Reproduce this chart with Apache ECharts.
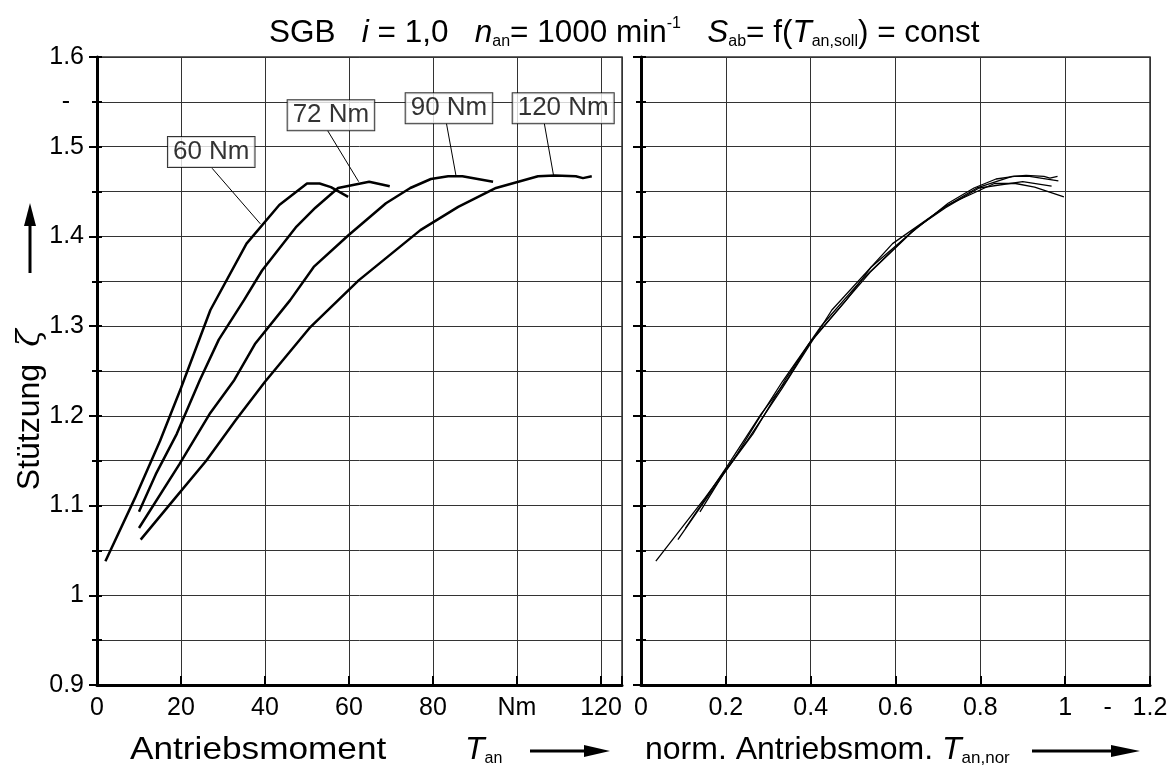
<!DOCTYPE html>
<html>
<head>
<meta charset="utf-8">
<script src="https://cdn.jsdelivr.net/npm/echarts@6/dist/echarts.min.js"></script>
<style>
  html, body { margin: 0; padding: 0; background: #fff; }
  #chart { width: 1172px; height: 771px; }
</style>
</head>
<body>
<div id="chart"></div>
<script>
// Stützung über Antriebsmoment (links) und normiertem Antriebsmoment (rechts)
var t60 = [[2, 1.038], [9, 1.108], [15, 1.172], [20, 1.231], [27, 1.318], [35.6, 1.392], [43.4, 1.435], [50, 1.459], [53, 1.459], [55.7, 1.455], [59.8, 1.444]];
var t72 = [[10, 1.093], [14, 1.135], [19, 1.18], [24.5, 1.24], [29, 1.285], [35, 1.329], [39.3, 1.362], [47.5, 1.411], [52, 1.432], [57.4, 1.454], [64.8, 1.461], [69.7, 1.456]];
var t90 = [[10, 1.075], [19.6, 1.146], [26.8, 1.202], [32.7, 1.24], [37.6, 1.28], [46, 1.329], [51.6, 1.366], [59.8, 1.401], [68.8, 1.437], [74.6, 1.454], [79.5, 1.464], [83.6, 1.467], [87, 1.467], [94.3, 1.461]];
var t120 = [[10.4, 1.062], [18, 1.105], [26, 1.15], [33, 1.195], [40, 1.238], [50.8, 1.299], [62.3, 1.351], [77, 1.407], [86, 1.433], [95, 1.454], [105, 1.467], [109, 1.468], [114, 1.467], [115.7, 1.465], [117.8, 1.467]];

// normiert
var n60 = [[0.035, 1.038], [0.15, 1.108], [0.25, 1.172], [0.333, 1.231], [0.45, 1.318], [0.593, 1.392], [0.723, 1.435], [0.833, 1.459], [0.883, 1.459], [0.928, 1.455], [0.997, 1.444]];
var n72 = [[0.139, 1.093], [0.194, 1.135], [0.264, 1.18], [0.34, 1.24], [0.4, 1.283], [0.48, 1.327], [0.54, 1.36], [0.65, 1.41], [0.718, 1.432], [0.797, 1.454], [0.9, 1.461], [0.968, 1.456]];
var n90 = [[0.105, 1.075], [0.206, 1.146], [0.283, 1.202], [0.344, 1.24], [0.396, 1.28], [0.484, 1.329], [0.543, 1.366], [0.629, 1.401], [0.724, 1.437], [0.785, 1.454], [0.837, 1.464], [0.88, 1.467], [0.916, 1.467], [0.984, 1.462]];
var n120 = [[0.087, 1.062], [0.15, 1.105], [0.217, 1.15], [0.275, 1.195], [0.333, 1.238], [0.423, 1.299], [0.519, 1.351], [0.642, 1.407], [0.717, 1.433], [0.792, 1.454], [0.875, 1.467], [0.908, 1.468], [0.95, 1.467], [0.964, 1.465], [0.982, 1.467]];

// Beschriftungskästen: [x, y, Text] und Hinweislinien
var boxes = [[27.2, 1.494, '60 Nm'], [55.7, 1.535, '72 Nm'], [83.8, 1.543, '90 Nm'], [111, 1.543, '120 Nm']];
var leaders = [
  [[27.4, 1.476], [38.9, 1.414]],
  [[54.9, 1.518], [62.3, 1.461]],
  [[83.2, 1.526], [85.5, 1.467]],
  [[106.5, 1.526], [108.7, 1.468]]
];

var FONT = 'Liberation Sans, Arial, sans-serif';
var myChart = echarts.init(document.getElementById('chart'));

function curve(data, g, w) {
  return {
    type: 'line',
    data: data,
    xAxisIndex: g,
    yAxisIndex: g === 0 ? 0 : 2,
    symbol: 'none',
    lineStyle: { color: '#000', width: w },
    z: 5
  };
}

var yMain = function (g, showLabel) {
  return {
    type: 'value', gridIndex: g, min: 0.9, max: 1.6, interval: 0.1, position: 'left',
    axisLine: { show: true, lineStyle: { color: '#000', width: 3 } },
    axisTick: { show: true, length: 8, lineStyle: { color: '#000', width: 2 } },
    minorTick: { show: true, splitNumber: 2, length: 5, lineStyle: { color: '#000', width: 2 } },
    splitLine: { show: true, lineStyle: { color: '#333', width: 1 } },
    minorSplitLine: { show: true, lineStyle: { color: '#333', width: 1 } },
    axisLabel: { show: showLabel, color: '#000', fontSize: 25, fontFamily: FONT, margin: 13 }
  };
};
var yInner = function (g, withDash) {
  return {
    type: 'value', gridIndex: g, min: 0.9, max: 1.6, interval: 0.05, position: 'left',
    axisLine: { show: false },
    axisTick: { show: true, inside: true, length: 5, lineStyle: { color: '#000', width: 2 } },
    splitLine: { show: false },
    axisLabel: {
      show: withDash, color: '#000', fontSize: 25, fontFamily: FONT, margin: 27,
      formatter: function (v) { return Math.abs(v - 1.55) < 1e-6 ? '-' : ''; }
    }
  };
};

var txt = function (size, extra) {
  var s = { fontSize: size, fontFamily: FONT, fill: '#000', color: '#000', fontWeight: 'normal' };
  for (var k in extra) s[k] = extra[k];
  return s;
};

var option = {
  animation: false,
  backgroundColor: '#fff',
  title: {
    left: 264, top: 11,
    text: '{n|SGB   }{it|i}{n| = 1,0   }{it|n}{sub|an}{n|= 1000 min}{sup|-1}{n|   }{it|S}{sub|ab}{n|= f(}{it|T}{sub|an,soll}{n|) = const}',
    textStyle: {
      fontWeight: 'normal',
      rich: {
        n: txt(31.5, { lineHeight: 34 }),
        it: txt(31.5, { fontStyle: 'italic', lineHeight: 34 }),
        sub: txt(16, { verticalAlign: 'bottom', lineHeight: 14 }),
        sup: txt(16, { verticalAlign: 'top', lineHeight: 14 })
      }
    }
  },
  grid: [
    { left: 97, right: 550, top: 57, bottom: 86, show: true, borderColor: '#333', borderWidth: 1.5 },
    { left: 641, right: 22, top: 57, bottom: 86, show: true, borderColor: '#333', borderWidth: 1.5 }
  ],
  xAxis: [
    {
      type: 'value', gridIndex: 0, min: 0, max: 125, interval: 20,
      axisLine: { show: true, onZero: false, lineStyle: { color: '#000', width: 3 } },
      axisTick: { show: true, inside: true, length: 9, lineStyle: { color: '#000', width: 2 } },
      splitLine: { show: true, lineStyle: { color: '#333', width: 1 } },
      axisLabel: {
        color: '#000', fontSize: 25, fontFamily: FONT, margin: 11,
        formatter: function (v) { return v === 100 ? 'Nm' : (v % 20 === 0 ? String(v) : ''); }
      }
    },
    {
      type: 'value', gridIndex: 1, min: 0, max: 1.2, interval: 0.2,
      axisLine: { show: true, onZero: false, lineStyle: { color: '#000', width: 3 } },
      axisTick: { show: true, inside: true, length: 9, lineStyle: { color: '#000', width: 2 } },
      splitLine: { show: true, lineStyle: { color: '#333', width: 1 } },
      axisLabel: { color: '#000', fontSize: 25, fontFamily: FONT, margin: 11, showMaxLabel: true }
    },
    {
      type: 'value', gridIndex: 1, min: 0, max: 1.2, interval: 0.1, position: 'bottom',
      axisLine: { show: false }, axisTick: { show: false }, splitLine: { show: false },
      axisLabel: {
        color: '#000', fontSize: 25, fontFamily: FONT, margin: 11,
        formatter: function (v) { return Math.abs(v - 1.1) < 1e-6 ? '-' : ''; }
      }
    }
  ],
  yAxis: [
    yMain(0, true),
    yInner(0, true),
    yMain(1, false),
    yInner(1, false)
  ],
  graphic: [
    // y-Achsentitel
    {
      type: 'text', x: 30, y: 427, rotation: Math.PI / 2,
      style: { text: 'Stützung', align: 'center', verticalAlign: 'middle', fontSize: 32, fontFamily: FONT, fill: '#000' }
    },
    {
      type: 'text', x: 31, y: 338, rotation: Math.PI / 2,
      style: { text: 'ζ', align: 'center', verticalAlign: 'middle', fontSize: 32, fontFamily: 'DejaVu Serif, serif', fontStyle: 'italic', fill: '#000' }
    },
    { type: 'line', shape: { x1: 30, y1: 273, x2: 30, y2: 224 }, style: { stroke: '#000', lineWidth: 3 } },
    { type: 'polygon', shape: { points: [[24, 226], [36, 226], [30, 203]] }, style: { fill: '#000' } },
    // x-Achsentitel links
    {
      type: 'text', x: 130, y: 750, scaleX: 1.1,
      style: { text: 'Antriebsmoment', verticalAlign: 'middle', fontSize: 32, fontFamily: FONT, fill: '#000' }
    },
    {
      type: 'text', x: 465, y: 750,
      style: {
        text: '{t|T}{s|an}', verticalAlign: 'middle',
        rich: {
          t: txt(32, { fontStyle: 'italic', lineHeight: 34 }),
          s: txt(16, { verticalAlign: 'bottom', lineHeight: 14 })
        }
      }
    },
    { type: 'line', shape: { x1: 530, y1: 751, x2: 588, y2: 751 }, style: { stroke: '#000', lineWidth: 3 } },
    { type: 'polygon', shape: { points: [[584, 745], [584, 757], [610, 751]] }, style: { fill: '#000' } },
    // x-Achsentitel rechts
    {
      type: 'text', x: 645, y: 750,
      style: { text: 'norm. Antriebsmom.', verticalAlign: 'middle', fontSize: 32, fontFamily: FONT, fill: '#000' }
    },
    {
      type: 'text', x: 942, y: 750,
      style: {
        text: '{t|T}{s|an,nor}', verticalAlign: 'middle',
        rich: {
          t: txt(32, { fontStyle: 'italic', lineHeight: 34 }),
          s: txt(17, { verticalAlign: 'bottom', lineHeight: 14 })
        }
      }
    },
    { type: 'line', shape: { x1: 1032, y1: 751, x2: 1115, y2: 751 }, style: { stroke: '#000', lineWidth: 3 } },
    { type: 'polygon', shape: { points: [[1111, 745], [1111, 757], [1140, 751]] }, style: { fill: '#000' } }
  ],
  series: [
    curve(t60, 0, 2.5),
    curve(t72, 0, 2.5),
    curve(t90, 0, 2.5),
    curve(t120, 0, 2.5),
    curve(n60, 1, 1.3),
    curve(n72, 1, 1.3),
    curve(n90, 1, 1.3),
    curve(n120, 1, 1.3),
    {
      type: 'scatter',
      xAxisIndex: 0, yAxisIndex: 0,
      data: boxes,
      symbolSize: 0,
      z: 10,
      label: {
        show: true, position: 'inside',
        formatter: function (p) { return p.data[2]; },
        color: '#000', fontSize: 26, fontFamily: FONT,
        backgroundColor: '#fff', borderColor: '#000', borderWidth: 1,
        padding: [3, 5, 1, 5]
      },
      markLine: {
        silent: true,
        symbol: ['none', 'none'],
        label: { show: false },
        lineStyle: { color: '#000', width: 1, type: 'solid' },
        data: leaders.map(function (l) { return [{ coord: l[0] }, { coord: l[1] }]; })
      }
    }
  ]
};

myChart.setOption(option);
</script>
</body>
</html>
